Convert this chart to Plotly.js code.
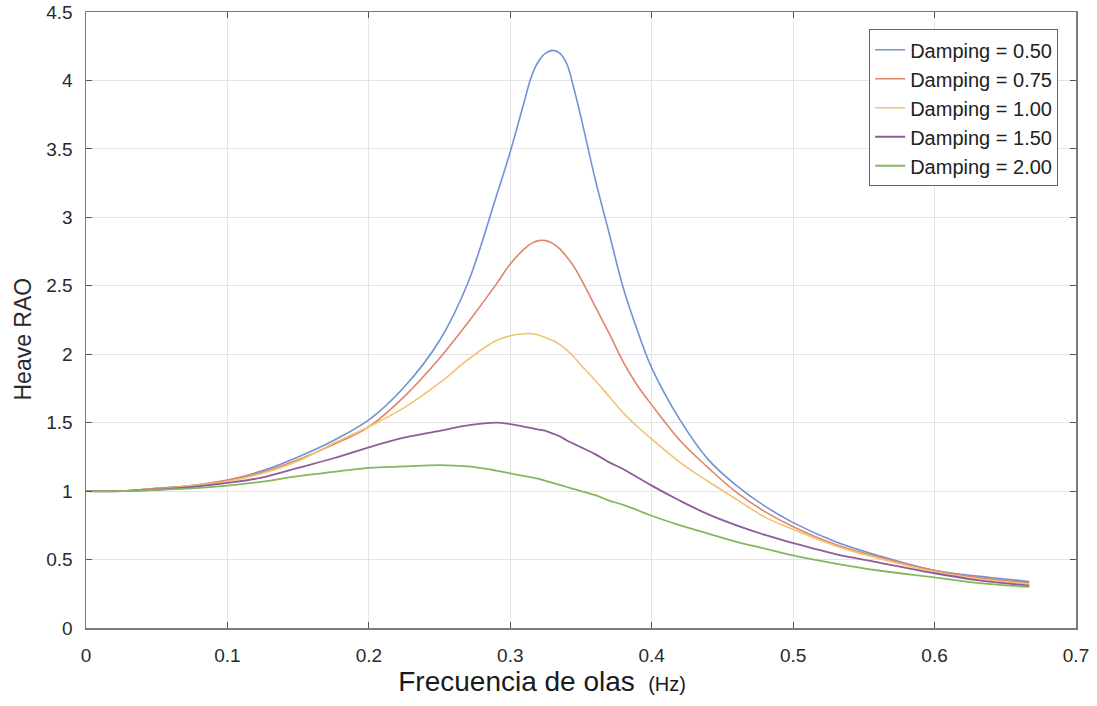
<!DOCTYPE html>
<html>
<head>
<meta charset="utf-8">
<script src="https://cdn.plot.ly/plotly-3.0.1.min.js"></script>
<style>
html,body{margin:0;padding:0;background:#fff;}
#chart{width:1097px;height:706px;}
</style>
</head>
<body>
<div id="chart"></div>
<script>
const freq = [0, 0.025, 0.05, 0.075, 0.1, 0.125, 0.15, 0.175, 0.2, 0.225, 0.25, 0.27, 0.29, 0.30, 0.31, 0.315, 0.32, 0.325, 0.33, 0.335, 0.34, 0.345, 0.35, 0.36, 0.37, 0.38, 0.39, 0.40, 0.42, 0.44, 0.46, 0.48, 0.50, 0.53, 0.56, 0.60, 0.63, 0.667];
const damp050 = [1.00, 1.00, 1.02, 1.04, 1.08, 1.15, 1.25, 1.37, 1.52, 1.76, 2.10, 2.52, 3.15, 3.48, 3.85, 4.03, 4.14, 4.20, 4.22, 4.20, 4.12, 3.94, 3.73, 3.28, 2.88, 2.48, 2.17, 1.90, 1.52, 1.23, 1.04, 0.89, 0.77, 0.63, 0.53, 0.42, 0.38, 0.34];
const damp075 = [1.00, 1.00, 1.02, 1.04, 1.08, 1.14, 1.23, 1.34, 1.47, 1.69, 1.97, 2.23, 2.51, 2.66, 2.77, 2.81, 2.83, 2.83, 2.81, 2.77, 2.71, 2.64, 2.55, 2.35, 2.15, 1.94, 1.77, 1.63, 1.37, 1.17, 0.99, 0.85, 0.74, 0.61, 0.52, 0.42, 0.37, 0.33];
const damp100 = [1.00, 1.00, 1.01, 1.04, 1.07, 1.13, 1.22, 1.35, 1.47, 1.61, 1.79, 1.96, 2.10, 2.135, 2.15, 2.15, 2.14, 2.12, 2.10, 2.07, 2.03, 1.98, 1.92, 1.81, 1.69, 1.57, 1.47, 1.38, 1.21, 1.07, 0.94, 0.81, 0.72, 0.60, 0.51, 0.41, 0.36, 0.32];
const damp150 = [1.00, 1.00, 1.01, 1.03, 1.06, 1.10, 1.17, 1.24, 1.32, 1.39, 1.44, 1.48, 1.50, 1.49, 1.47, 1.46, 1.45, 1.44, 1.42, 1.40, 1.37, 1.345, 1.32, 1.27, 1.21, 1.16, 1.10, 1.04, 0.93, 0.83, 0.75, 0.68, 0.62, 0.54, 0.48, 0.40, 0.35, 0.31];
const damp200 = [1.00, 1.00, 1.01, 1.02, 1.04, 1.07, 1.11, 1.14, 1.17, 1.18, 1.19, 1.18, 1.15, 1.13, 1.11, 1.10, 1.09, 1.075, 1.06, 1.045, 1.03, 1.015, 1.00, 0.97, 0.93, 0.90, 0.86, 0.82, 0.75, 0.69, 0.63, 0.58, 0.53, 0.47, 0.42, 0.37, 0.33, 0.30];
const seriesNames = ["Damping = 0.50", "Damping = 0.75", "Damping = 1.00", "Damping = 1.50", "Damping = 2.00"];
const xTicks = [0, 0.1, 0.2, 0.3, 0.4, 0.5, 0.6, 0.7];
const xTickText = ["0", "0.1", "0.2", "0.3", "0.4", "0.5", "0.6", "0.7"];
const yTicks = [0, 0.5, 1, 1.5, 2, 2.5, 3, 3.5, 4, 4.5];
const yTickText = ["0", "0.5", "1", "1.5", "2", "2.5", "3", "3.5", "4", "4.5"];

const allY = [damp050, damp075, damp100, damp150, damp200];
const colors = ["#6f93d3", "#e0846a", "#f0c570", "#8e5c9e", "#86b760"];
const widths = [1.6, 1.6, 1.6, 1.8, 1.8];

const traces = allY.map((ys, i) => ({
  x: freq, y: ys, type: "scatter", mode: "lines", name: seriesNames[i],
  line: {color: colors[i], width: widths[i], shape: "spline", smoothing: 1}
}));

const fam = "Liberation Sans, Arial, sans-serif";
const axisFont = {family: fam, size: 19, color: "#2a2a2a"};
const pad = n => "&nbsp;".repeat(n);
const layout = {
  width: 1097, height: 706,
  margin: {l: 86, r: 21, t: 12, b: 78},
  paper_bgcolor: "#fff", plot_bgcolor: "#fff",
  showlegend: true,
  xaxis: {
    range: [0, 0.7], tickvals: xTicks, ticktext: xTickText,
    showgrid: true, gridcolor: "#e3e3e3", gridwidth: 1,
    zeroline: false, showline: true, linecolor: "#7a7a7a", linewidth: 1.5, mirror: "ticks",
    ticks: "inside", ticklen: 6, tickcolor: "#555", tickwidth: 1.2,
    tickfont: axisFont, ticklabelstandoff: 10,
    title: {text: "Frecuencia de olas <span style='font-size:20px'> (Hz)" + pad(14) + "</span>",
            font: {family: fam, size: 28, color: "#1a1a1a"}, standoff: 6}
  },
  yaxis: {
    range: [0, 4.5], tickvals: yTicks, ticktext: yTickText,
    showgrid: true, gridcolor: "#e3e3e3", gridwidth: 1,
    zeroline: false, showline: true, linecolor: "#7a7a7a", linewidth: 1.5, mirror: "ticks",
    ticks: "inside", ticklen: 6, tickcolor: "#555", tickwidth: 1.2,
    tickfont: axisFont, ticklabelstandoff: 8,
    title: {text: "Heave RAO" + pad(6), font: {family: fam, size: 23, color: "#2a2a2a"}, standoff: 8}
  },
  legend: {
    x: 0.982, y: 0.972, xanchor: "right", yanchor: "top",
    bgcolor: "#fff", bordercolor: "#666", borderwidth: 1,
    font: {family: fam, size: 20, color: "#222"},
    tracegroupgap: 0
  }
};

Plotly.newPlot("chart", traces, layout, {displayModeBar: false, staticPlot: true});
</script>
</body>
</html>
